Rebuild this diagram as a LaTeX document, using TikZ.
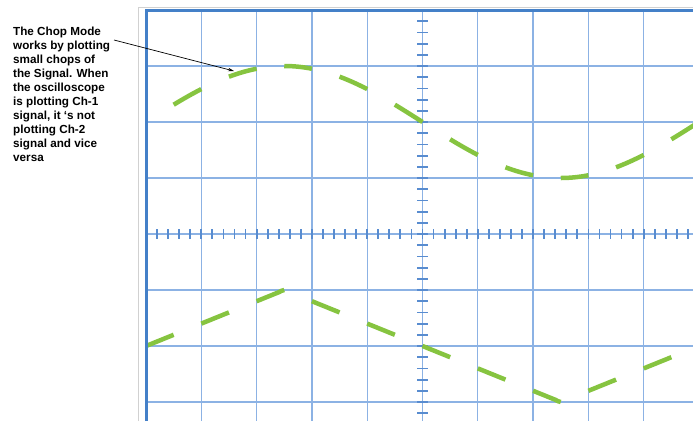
\documentclass[tikz,border=0pt]{standalone}
\usepackage{fontspec}
\setmainfont{Liberation Sans}
\usetikzlibrary{arrows.meta}
\definecolor{gridblue}{RGB}{140,178,228}
\definecolor{frameblue}{RGB}{68,128,200}
\definecolor{tickblue}{RGB}{88,140,208}
\definecolor{tracegreen}{RGB}{134,196,64}
\tikzset{
  gridline/.style={
    gridblue,
    line width=1.3pt
  },
  screenframe/.style={
    frameblue,
    line width=3pt
  },
  tickmark/.style={
    tickblue,
    line width=1.8pt
  },
  trace/.style={
    tracegreen,
    line width=4.5pt
  },
  note/.style={
    align=left,
    inner sep=0pt,
    font=\bfseries\fontsize{11.7}{14}\selectfont
  },
  pointer/.style={
    black,
    line width=0.7pt,
    -{Stealth[length=6pt,width=3.5pt]}
  }
}

\begin{document}
\begin{tikzpicture}[x=1pt, y=-1pt]
    \useasboundingbox (0,0) rectangle (693,421);

    % 外枠
    \draw[black!18, line width=0.8pt] (138,421) -- (138,7) -- (693,7);

    % 目盛り
    \begin{scope}
    \clip (146,10) rectangle (693,421);
    \foreach \i in {1,...,9}
        \draw[gridline] (146+55.3*\i,10) -- (146+55.3*\i,421);
    \foreach \j in {1,...,7}
        \draw[gridline] (146,10+56*\j) -- (693,10+56*\j);
    \foreach \i in {1,...,49}
        \draw[tickmark] (146+11.06*\i,229) -- (146+11.06*\i,239);
    \foreach \j in {1,...,37}
        \draw[tickmark] (417,10+11.2*\j) -- (428,10+11.2*\j);

    % Ch-1
    \foreach \k [evaluate=\k as \xa using 146+55.3*(\k+0.5),
                 evaluate=\k as \xb using 146+55.3*(\k+1)] in {0,...,9}
        \draw[trace] plot[domain=\xa:\xb, samples=12]
            (\x, {122-56*sin((\x-146)/553*360)});

    % Ch-2
    \foreach \k [evaluate=\k as \xa using 146+55.3*\k,
                 evaluate=\k as \xb using 146+55.3*(\k+0.5)] in {0,...,9}
        \draw[trace] plot[domain=\xa:\xb, samples=11]
            (\x, {346-56*asin(sin((\x-146)/553*360))/90});
    \end{scope}

    \draw[screenframe] (146,421) -- (146,10) -- (693,10);

    % 説明
    \node[note, anchor=north west] (memo) at (13,26.5)
        {The Chop Mode\\works by plotting\\small chops of\\the Signal. When\\the oscilloscope\\is plotting Ch-1\\signal, it \textquoteleft s not\\plotting Ch-2\\signal and vice\\versa};
    \coordinate (tail) at (114,40);
    \coordinate (head) at (234,71);
    \draw[pointer] (tail) -- (head);
\end{tikzpicture}
\end{document}
